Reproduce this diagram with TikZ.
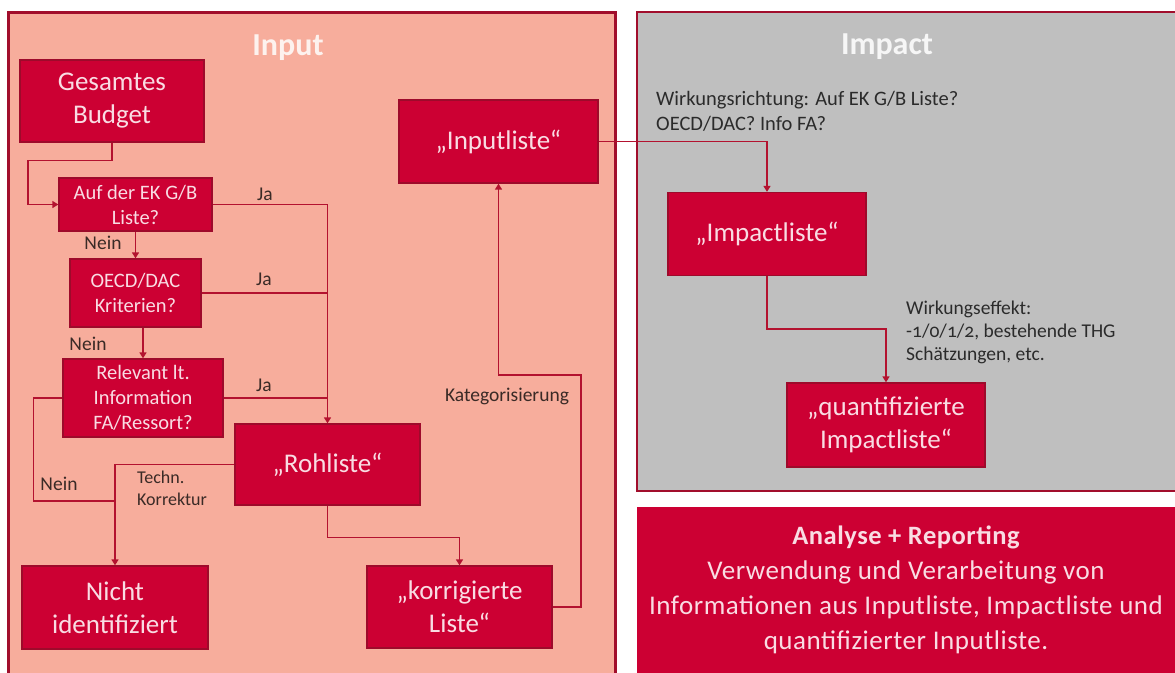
\documentclass[tikz,border=0pt]{standalone}
\usepackage{fontspec}
\setmainfont{Carlito}
\newfontfamily\widefont[LetterSpace=2]{Carlito}
\usetikzlibrary{arrows.meta}

\definecolor{panelsalmon}{HTML}{F7AD9C}
\definecolor{panelgray}{HTML}{BFBFBF}
\definecolor{frame}{HTML}{A10E2C}
\definecolor{boxred}{HTML}{CC0033}
\definecolor{boxedge}{HTML}{9E0A2B}
\definecolor{boxtext}{HTML}{F9DCE3}
\definecolor{linered}{HTML}{B3122F}
\definecolor{labtext}{HTML}{3A2A26}
\definecolor{graytext}{HTML}{2B2B2B}
\definecolor{titletext}{HTML}{FDF2EE}

\tikzset{
  bigbox/.style={draw=boxedge, line width=1.3pt, fill=boxred, text=boxtext,
    inner sep=0pt, align=center, font=\fontsize{27}{33}\selectfont},
  qbox/.style={bigbox, font=\fontsize{20.5}{25}\selectfont},
  conn/.style={draw=linered, line width=1.5pt},
  arr/.style={conn, -{Triangle[width=7pt,length=6pt]}},
  lab/.style={text=labtext, inner sep=0pt, font=\fontsize{19.5}{22}\selectfont},
  note/.style={text=graytext, inner sep=0pt, align=left},
  paneltitle/.style={text=titletext, inner sep=0pt, font=\fontsize{32}{36}\selectfont\bfseries},
}

\begin{document}
\begin{tikzpicture}[x=1pt,y=-1pt]
\useasboundingbox (0,0) rectangle (1175,672);
\fill[white] (0,0) rectangle (1175,672);

% panels
\filldraw[draw=frame, line width=3pt, fill=panelsalmon] (8,12) rectangle (615,690);
\filldraw[draw=frame, line width=2pt, fill=panelgray] (637,12) rectangle (1190,491);
\fill[boxred] (637,507) rectangle (1190,690);

% panel titles
\node[paneltitle, anchor=base] (tin) at (288,55) {Input};
\node[paneltitle, anchor=base, text=white!93!gray] (timp) at (887,54) {Impact};

% input flow
\node[bigbox, minimum width=184pt, minimum height=82pt] (budget) at (112,101) {Gesamtes\\Budget};
\node[qbox, minimum width=153pt, minimum height=53pt] (q1) at (135.5,204.5) {Auf der EK G/B\\Liste?};
\node[qbox, minimum width=131pt, minimum height=68pt] (q2) at (135.5,293) {OECD/DAC\\Kriterien?};
\node[qbox, minimum width=160pt, minimum height=78pt] (q3) at (143,398) {Relevant lt.\\Information\\FA/Ressort?};
\node[bigbox, minimum width=185pt, minimum height=81pt] (roh) at (327.5,464.5) {„Rohliste“};
\node[bigbox, minimum width=186pt, minimum height=83pt] (nicht) at (115,607.5) {Nicht\\identifiziert};
\node[bigbox, minimum width=185pt, minimum height=82pt] (korr) at (459.5,607) {„korrigierte\\Liste“};
\node[bigbox, minimum width=199pt, minimum height=83pt] (inputl) at (498.5,141.5) {„Inputliste“};

% impact flow
\node[bigbox, minimum width=198pt, minimum height=83pt] (impactl) at (767,234) {„Impactliste“};
\node[bigbox, minimum width=198pt, minimum height=84pt] (quant) at (886,425) {„quantifizierte\\Impactliste“};

% connectors
\coordinate (j) at (115,501);
\draw[arr] (budget.south) -- ++(0,18) -| (28,204.5) -- (q1.west);
\draw[arr] (q1) -- (q2);
\draw[arr] (q2.south -| q3.north) -- (q3.north);
\draw[arr] (q1.east) -| (roh.north);
\draw[conn] (q2.east) -- (q2.east -| roh.north);
\draw[conn] (q3.east) -- (q3.east -| roh.north);
\draw[conn] (q3.west) -- ++(-29,0) |- (j);
\draw[arr] (roh.west) -| (nicht.north);
\draw[arr] (roh.south) -- ++(0,32) -| (korr.north);
\draw[arr] (korr.east) -| (581,375) -| (inputl.south);
\draw[arr] (inputl.east) -| (impactl.north);
\draw[arr] (impactl.south) -- ++(0,53) -| (quant.north);

% connector labels
\node[lab, anchor=base] (ja1) at (265,200) {Ja};
\node[lab, anchor=base] (ja2) at (264,285) {Ja};
\node[lab, anchor=base] (ja3) at (264,391) {Ja};
\node[lab, anchor=base] (nein1) at (103,249) {Nein};
\node[lab, anchor=base] (nein2) at (88,350) {Nein};
\node[lab, anchor=base] (nein3) at (59,490) {Nein};
\node[lab, anchor=north west, align=left, font=\fontsize{18}{22}\selectfont] (techn) at (137,471) {Techn.\\Korrektur};
\node[lab, anchor=base] (kat) at (507,401) {Kategorisierung};

% impact notes
\node[note, anchor=north west, font=\fontsize{20.5}{25}\selectfont] (wr) at (656,91)
  {Wirkungsrichtung: Auf EK G/B Liste?\\OECD/DAC? Info FA?};
\node[note, anchor=north west, font=\fontsize{19.5}{23}\selectfont] (we) at (906,301)
  {Wirkungseffekt:\\{\addfontfeatures{Numbers=OldStyle}-1/0/1/2}, bestehende THG\\Schätzungen, etc.};

% analysis panel text
\node[text=boxtext, inner sep=0pt, align=center, font=\widefont\fontsize{27}{35}\selectfont] (analyse) at (906,590)
  {{\fontsize{26.5}{35}\selectfont\bfseries Analyse + Reporting}\\Verwendung und Verarbeitung von\\Informationen aus Inputliste, Impactliste und\\quantifizierter Inputliste.};
\end{tikzpicture}
\end{document}
